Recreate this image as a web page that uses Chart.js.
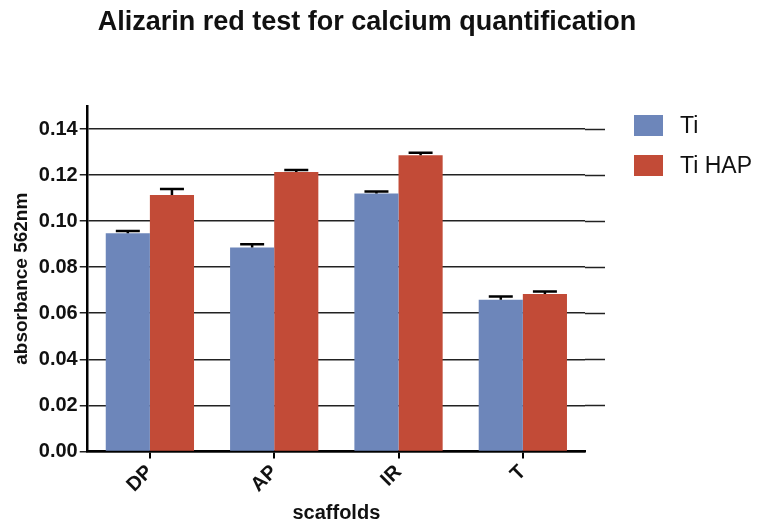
<!DOCTYPE html>
<html>
<head>
<meta charset="utf-8">
<script src="https://cdn.jsdelivr.net/npm/chart.js@4/dist/chart.umd.min.js"></script>
<style>
  html, body { margin: 0; padding: 0; background: #fff; }
  #wrap { position: relative; width: 760px; height: 523px; }
  #title { position: absolute; left: 0; width: 734px; top: 6px; text-align: center; font-family: "Liberation Sans", Arial, sans-serif; font-weight: bold; font-size: 27px; color: #111; }
  #legend { position: absolute; left: 634px; top: 112px; font-family: "Liberation Sans", Arial, sans-serif; font-size: 23px; color: #111; }
  .item { display: flex; align-items: center; height: 26px; margin-bottom: 14px; }
  .sw { width: 29px; height: 21px; margin-right: 17px; }
</style>
</head>
<body>
<div id="wrap">
  <canvas id="chart" width="760" height="523"></canvas>
  <div id="title">Alizarin red test for calcium quantification</div>
  <div id="legend"></div>
</div>
<script>
const categories = ['DP', 'AP', 'IR', 'T'];
const seriesNames = ['Ti', 'Ti HAP'];
const tiValues = [0.0947, 0.0886, 0.1120, 0.0659];
const tiErrors = [0.0010, 0.0014, 0.0009, 0.0014];
const hapValues = [0.1113, 0.1213, 0.1286, 0.0683];
const hapErrors = [0.0026, 0.0009, 0.0011, 0.0011];
const yTicks = [0, 0.02, 0.04, 0.06, 0.08, 0.10, 0.12, 0.14];
const colors = ['#6d86ba', '#c24b37'];

const font = '"Liberation Sans", Arial, sans-serif';

// legend in html so it sits where the original one does
const legend = document.getElementById('legend');
seriesNames.forEach((name, i) => {
    legend.innerHTML += `<div class="item"><div class="sw" style="background:${colors[i]}"></div>${name}</div>`;
});

const errorBars = {
    id: 'errorBars',
    afterDatasetsDraw(chart) {
        const ctx = chart.ctx;
        const y = chart.scales.y;
        ctx.save();
        ctx.strokeStyle = '#000';
        ctx.lineWidth = 2.5;
        chart.data.datasets.forEach((ds, i) => {
            const meta = chart.getDatasetMeta(i);
            meta.data.forEach((bar, j) => {
                const top = y.getPixelForValue(ds.data[j] + ds.errors[j]);
                ctx.beginPath();
                ctx.moveTo(bar.x, bar.y);
                ctx.lineTo(bar.x, top);
                ctx.moveTo(bar.x - 12, top);
                ctx.lineTo(bar.x + 12, top);
                ctx.stroke();
            });
        });
        ctx.restore();
    }
};

// gridlines run a bit past the end of the x axis in the original
const gridExtend = {
    id: 'gridExtend',
    beforeDatasetsDraw(chart) {
        const ctx = chart.ctx;
        const y = chart.scales.y;
        const area = chart.chartArea;
        ctx.save();
        ctx.strokeStyle = '#222';
        ctx.lineWidth = 1.5;
        yTicks.forEach(v => {
            if (v === 0) return;
            const py = Math.round(y.getPixelForValue(v)) + 0.5;
            ctx.beginPath();
            ctx.moveTo(area.right, py);
            ctx.lineTo(area.right + 20, py);
            ctx.stroke();
        });
        ctx.restore();
    }
};

new Chart(document.getElementById('chart'), {
    type: 'bar',
    data: {
        labels: categories,
        datasets: [
            { label: seriesNames[0], data: tiValues, errors: tiErrors, backgroundColor: colors[0] },
            { label: seriesNames[1], data: hapValues, errors: hapErrors, backgroundColor: colors[1] }
        ]
    },
    options: {
        responsive: false,
        animation: false,
        categoryPercentage: 0.71,
        barPercentage: 1.0,
        layout: { padding: { left: 10, right: 175, top: 106, bottom: 0 } },
        plugins: {
            legend: { display: false },
            tooltip: { enabled: false },
            title: { display: false }
        },
        scales: {
            x: {
                grid: { display: true, drawOnChartArea: false, offset: false, color: '#000', lineWidth: 2, tickLength: 7 },
                border: { color: '#000', width: 2.5 },
                ticks: {
                    color: '#111', maxRotation: 45, minRotation: 45, padding: 2,
                    font: { family: font, size: 20, weight: 'bold' }
                },
                title: {
                    display: true, text: 'scaffolds', color: '#111', padding: { top: 4, bottom: 0 },
                    font: { family: font, size: 20, weight: 'bold', lineHeight: 1.0 }
                }
            },
            y: {
                min: 0,
                max: 0.15,
                afterBuildTicks: axis => { axis.ticks = yTicks.map(v => ({ value: v })); },
                grid: { color: '#222', lineWidth: 1.5, tickLength: 8 },
                border: { color: '#000', width: 2.5 },
                ticks: {
                    color: '#111', padding: 2,
                    font: { family: font, size: 20, weight: 'bold' },
                    callback: v => v.toFixed(2)
                },
                title: {
                    display: true, text: 'absorbance 562nm', color: '#111', padding: { top: 0, bottom: 4 },
                    font: { family: font, size: 19, weight: 'bold' }
                }
            }
        }
    },
    plugins: [errorBars, gridExtend]
});
</script>
</body>
</html>
